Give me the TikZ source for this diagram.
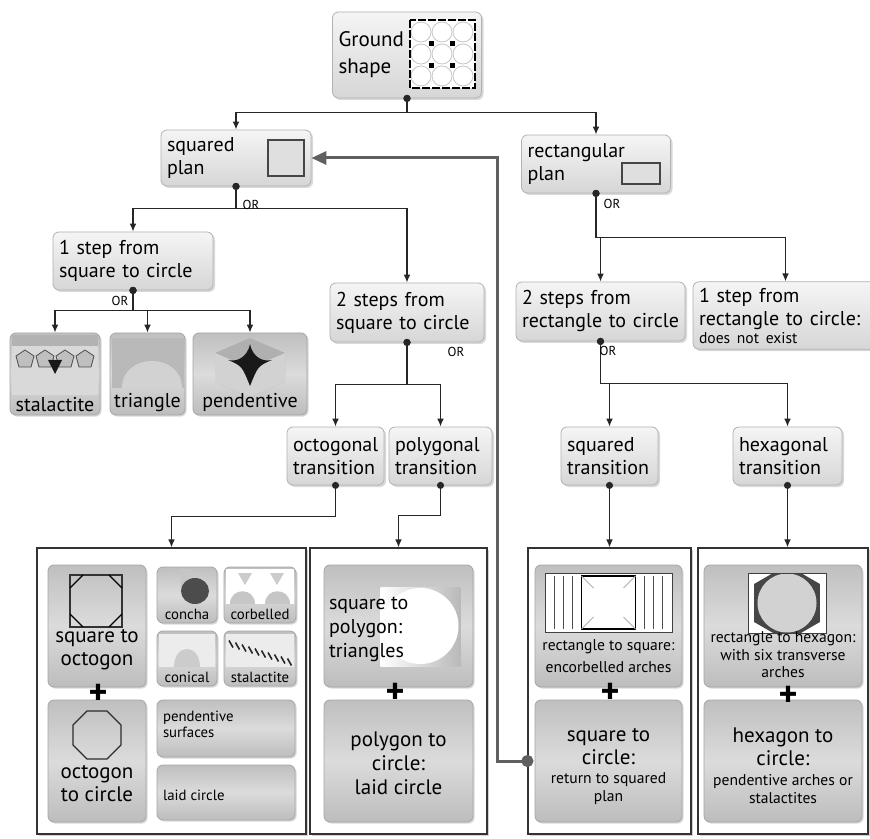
\documentclass[tikz,border=0pt]{standalone}
\usepackage{fontspec}
\setmainfont{PT Sans}
\usetikzlibrary{positioning, arrows.meta, shadows, calc}

\newcommand{\boxtxt}{\fontsize{10}{11.5}\selectfont}
\newcommand{\parttxt}{\fontsize{10.5}{11.5}\selectfont}
\newcommand{\notetxt}{\fontsize{7.8}{9}\selectfont}
\newcommand{\tagtxt}{\fontsize{7.4}{8}\selectfont}

\tikzset{
  choicebox/.style={rectangle, rounded corners=3pt, draw=gray!60, top color=gray!8, bottom color=gray!32,
    drop shadow={opacity=0.3, shadow xshift=1pt, shadow yshift=-1pt}, inner sep=3pt, align=left, font=\boxtxt},
  partbox/.style={rectangle, rounded corners=3pt, draw=gray!70, top color=gray!50, bottom color=gray!52, middle color=gray!28,
    drop shadow={opacity=0.3, shadow xshift=0.8pt, shadow yshift=-0.8pt}, inner sep=0pt},
  panelbox/.style={rectangle, draw=black!80, line width=0.6pt, fill=white,
    drop shadow={opacity=0.35, shadow xshift=1pt, shadow yshift=-1pt}, inner sep=0pt},
  inlabel/.style={inner sep=0pt, align=center},
  flowarrow/.style={{Circle[length=3.5pt]}-{Latex[length=4pt,width=3.4pt]}, shorten <=-1.75pt, line width=0.7pt, black!85},
  loopback/.style={{Circle[length=6pt]}-{Triangle[length=7.5pt,width=6.5pt]}, shorten <=-3pt, line width=1.5pt, gray!75!black},
  ortext/.style={font=\fontsize{6.5}{7}\selectfont, inner sep=0pt},
  plusmark/.style={font=\fontsize{18}{18}\selectfont\bfseries, inner sep=0pt},
}

\begin{document}
\begin{tikzpicture}[x=0.5pt, y=-0.5pt]
\fill[white] (0,0) rectangle (870,838);
\useasboundingbox (0,0) rectangle (870,838);

% decision boxes
\node[choicebox, text width=68.5pt, minimum height=43pt, font=\fontsize{10.5}{13.5}\selectfont] (ground) at (407,55) {Ground\\shape};
\node[choicebox, text width=69pt, minimum height=28pt] (sqplan) at (236,158) {squared\\plan};
\node[choicebox, text width=68.5pt, minimum height=29pt] (rectplan) at (596,164) {rectangular\\plan};
\node[choicebox, text width=74pt, minimum height=29pt] (step1sq) at (133,261) {1 step from\\square to circle};
\node[choicebox, text width=71pt, minimum height=29.5pt] (steps2sq) at (407,312.5) {2 steps from\\square to circle};
\node[choicebox, text width=78.5pt, minimum height=29.5pt] (steps2rect) at (600.5,311.5) {2 steps from\\rectangle to circle};
\node[choicebox, text width=86.5pt, minimum height=33.5pt] (step1rect) at (785.5,315.5) {1 step from\\rectangle to circle:\\[-2.5pt]{\notetxt does not exist}};
\node[choicebox, text width=42.5pt, minimum height=29pt] (octtrans) at (335.5,456) {octogonal\\transition};
\node[choicebox, text width=45.5pt, minimum height=29pt] (polytrans) at (440.5,456) {polygonal\\transition};
\node[choicebox, text width=42.5pt, minimum height=29pt] (sqtrans) at (609.5,456) {squared\\transition};
\node[choicebox, text width=48.5pt, minimum height=29pt] (hextrans) at (787.5,456) {hexagonal\\transition};

% one step pictures
\node[partbox, minimum width=45pt, minimum height=41pt] (stal) at (55,374) {};
\node[partbox, minimum width=37.5pt, minimum height=41pt] (tri) at (147.5,374) {};
\node[partbox, minimum width=57pt, minimum height=41pt] (pend) at (250,374) {};

% panels
\node[panelbox, minimum width=134.5pt, minimum height=143pt] (panelA) at (171.5,691) {};
\node[panelbox, minimum width=88.5pt, minimum height=143pt] (panelB) at (398.5,691) {};
\node[panelbox, minimum width=81.5pt, minimum height=143pt] (panelC) at (609.5,691) {};
\node[panelbox, minimum width=85pt, minimum height=143pt] (panelD) at (783,691) {};

\node[partbox, minimum width=49pt, minimum height=61pt] (sqoct) at (97,626) {};
\node[partbox, minimum width=49pt, minimum height=61pt] (octcirc) at (97,761) {};
\node[partbox, minimum width=30pt, minimum height=28pt] (concha) at (187,595) {};
\node[partbox, minimum width=36pt, minimum height=28pt] (corbel) at (260,595) {};
\node[partbox, minimum width=30pt, minimum height=27.5pt] (conical) at (187,658.5) {};
\node[partbox, minimum width=36pt, minimum height=27.5pt] (stalsm) at (260,658.5) {};
\node[partbox, minimum width=69pt, minimum height=28.5pt] (pendsurf) at (226,728.5) {};
\node[partbox, minimum width=69pt, minimum height=27.5pt] (laidcirc) at (226,792.5) {};
\node[partbox, minimum width=74.5pt, minimum height=61pt] (sqpoly) at (398.5,626) {};
\node[partbox, minimum width=74.5pt, minimum height=61pt] (polycirc) at (398.5,761) {};
\node[partbox, minimum width=73.5pt, minimum height=61pt] (rectsq) at (608.5,626) {};
\node[partbox, minimum width=73.5pt, minimum height=61pt] (sqcirc) at (608.5,761) {};
\node[partbox, minimum width=79pt, minimum height=61pt] (recthex) at (783,626) {};
\node[partbox, minimum width=79pt, minimum height=61pt] (hexcirc) at (783,761) {};

% pictures in the boxes
\begin{scope}[shift={(ground.center)}]
  \fill[white] (3,-35) rectangle (68,33);
  \foreach \cx in {14,35,56}
    \foreach \cy in {-23,-1,21}
      \draw[gray!45] (\cx,\cy) circle (10);
  \foreach \cx in {22,43}
    \foreach \cy in {-14,8}
      \fill (\cx,\cy) rectangle ++(5,5);
  \draw[line width=1.3pt, dash pattern=on 4pt off 1pt] (3,-35) rectangle (68,33);
\end{scope}
\begin{scope}[shift={(sqplan.center)}]
  \filldraw[fill=gray!25, draw=gray!55!black, line width=1pt] (32,-18) rectangle (68,18);
\end{scope}
\begin{scope}[shift={(rectplan.center)}]
  \filldraw[fill=gray!25, draw=gray!55!black, line width=0.8pt] (26,-1) rectangle (64,20);
\end{scope}
\begin{scope}[shift={(stal.center)}]
  \fill[gray!30] (-43,-39) rectangle (43,21);
  \fill[gray!60] (-43,-39) rectangle (43,-28);
  \foreach \px in {-30,-10,10,30}
    \filldraw[fill=gray!50, draw=black!70, line width=0.4pt] (\px,-24) -- ++(9,6) -- ++(-3,11) -- ++(-12,0) -- ++(-3,-11) -- cycle;
  \fill[gray!20!black] (-7,-14) -- (7,-14) -- (0,0) -- cycle;
\end{scope}
\begin{scope}[shift={(tri.center)}]
  \fill[gray!55] (-36,-36) rectangle (36,14);
  \fill[gray!35] (-26,14) .. controls (-26,-22) and (34,-22) .. (34,14) -- cycle;
\end{scope}
\begin{scope}[shift={(pend.center)}]
  \fill[gray!62] (0,-36) -- (35,-21) -- (35,8) -- (0,23) -- (-35,8) -- (-35,-21) -- cycle;
  \fill[gray!35] (-35,-21) -- (0,-6) -- (35,-21) -- (35,8) -- (0,23) -- (-35,8) -- cycle;
  \fill[gray!20!black] (0,-30) .. controls (3,-15) and (15,-12) .. (22,-14) .. controls (8,-8) .. (0,12)
    .. controls (-8,-8) .. (-22,-14) .. controls (-15,-12) and (-3,-15) .. (0,-30) -- cycle;
\end{scope}
\begin{scope}[shift={(sqoct.center)}]
  \draw[gray!40!black, line width=0.8pt] (-27,-51) rectangle (25,1);
  \draw[black, line width=0.6pt] (-27,-38) -- (-14,-51) (12,-51) -- (25,-38) (25,-12) -- (12,1) (-14,1) -- (-27,-12);
\end{scope}
\begin{scope}[shift={(octcirc.center)}, yshift=13pt]
  \draw[gray!35!black, line width=0.6pt] (22.5:26) \foreach \a in {67.5,112.5,...,337.5} { -- (\a:26) } -- cycle;
\end{scope}
\begin{scope}[shift={(concha.center)}]
  \fill[gray!45] (-6,-26) rectangle (4,-4);
  \fill[gray!60!black] (8,-4) ellipse (14 and 13);
\end{scope}
\begin{scope}[shift={(corbel.center)}]
  \fill[white] (-34,-26) rectangle (34,9);
  \fill[gray!40] (-22,-22) -- (-8,-22) -- (-15,-10) -- cycle;
  \fill[gray!40] (10,-22) -- (24,-22) -- (17,-10) -- cycle;
  \fill[gray!45] (-30,9) .. controls (-30,-8) and (-5,-8) .. (-5,9) -- cycle;
  \fill[gray!45] (5,9) .. controls (5,-8) and (30,-8) .. (30,9) -- cycle;
\end{scope}
\begin{scope}[shift={(conical.center)}]
  \fill[gray!15] (-28,-25) rectangle (28,8);
  \fill[gray!40] (-13,8) .. controls (-13,-16) and (13,-16) .. (13,8) -- cycle;
\end{scope}
\begin{scope}[shift={(stalsm.center)}]
  \fill[gray!15] (-34,-25) rectangle (34,8);
  \foreach \i in {0,...,9}
    \draw[gray!30!black, line width=0.8pt] (-31+\i*6.5,-18+\i*2) -- ++(4,7);
\end{scope}
\begin{scope}[shift={(sqpoly.center)}]
  \shade[left color=white, right color=gray!55] (-18,-39) rectangle (62,40);
  \fill[white] (22,0) circle (38);
\end{scope}
\begin{scope}[shift={(rectsq.center)}]
  \filldraw[fill=white, draw=gray!50!black, line width=0.5pt] (-63,-53) rectangle (64,6);
  \foreach \sx in {-54,-45,-36,36,45,54}
    \draw[gray!60!black, line width=0.4pt] (\sx,-50) -- (\sx,3);
  \draw[black, line width=0.8pt] (-27,-50) rectangle (27,3);
  \draw[gray!60, line width=0.4pt] (-27,-50) -- (-15,-38) (27,-50) -- (15,-38) (27,3) -- (15,-9) (-27,3) -- (-15,-9);
\end{scope}
\begin{scope}[shift={(recthex.center)}]
  \fill[white] (-35,-53) rectangle (43,7);
  \begin{scope}
    \clip (-35,-53) rectangle (43,7);
    \fill[gray!55!black] (4,-23) ++(30:38) \foreach \a in {90,150,...,330} { -- ($(4,-23)+(\a:38)$) } -- cycle;
    \fill[gray!35] (4,-23) circle (29.5);
  \end{scope}
  \draw[gray!50!black, line width=0.5pt] (-35,-53) rectangle (43,7);
\end{scope}

% texts in the boxes
\node[inlabel, font=\boxtxt, anchor=south, inner sep=1.5pt] (stal-txt) at (stal.south) {stalactite};
\node[inlabel, font=\boxtxt, anchor=south, inner sep=1.5pt] (tri-txt) at (tri.south) {triangle};
\node[inlabel, font=\boxtxt, anchor=south, inner sep=1.5pt] (pend-txt) at (pend.south) {pendentive};
\node[inlabel, font=\parttxt] (sqoct-txt) at ($(sqoct.center)+(0,24)$) {square to\\octogon};
\node[inlabel, font=\parttxt] (octcirc-txt) at ($(octcirc.center)+(0,23)$) {octogon\\to circle};
\node[inlabel, font=\tagtxt, anchor=south, inner sep=1.5pt] (concha-txt) at (concha.south) {concha};
\node[inlabel, font=\tagtxt, anchor=south, inner sep=1.5pt] (corbel-txt) at (corbel.south) {corbelled};
\node[inlabel, font=\tagtxt, anchor=south, inner sep=1.5pt] (conical-txt) at (conical.south) {conical};
\node[inlabel, font=\tagtxt, anchor=south, inner sep=1.5pt] (stalsm-txt) at (stalsm.south) {stalactite};
\node[inlabel, font=\tagtxt, align=left, anchor=north west] (pendsurf-txt) at ($(pendsurf.north west)+(6,11)$) {pendentive\\surfaces};
\node[inlabel, font=\tagtxt, anchor=west] (laidcirc-txt) at ($(laidcirc.west)+(6,3)$) {laid circle};
\node[inlabel, font=\fontsize{10}{12}\selectfont, align=left, anchor=west] (sqpoly-txt) at ($(sqpoly.west)+(5,3)$) {square to\\polygon:\\triangles};
\node[inlabel, font=\fontsize{10.5}{12}\selectfont] (polycirc-txt) at ($(polycirc.center)+(0,2)$) {polygon to\\circle:\\laid circle};
\node[inlabel, font=\fontsize{7.8}{11}\selectfont] (rectsq-txt) at ($(rectsq.center)+(0,30)$) {rectangle to square:\\encorbelled arches};
\node[inlabel, font=\parttxt] (sqcirc-txt) at ($(sqcirc.center)+(0,-14)$) {square to\\circle:};
\node[inlabel, font=\notetxt] (sqcirc-note) at ($(sqcirc.center)+(0,28)$) {return to squared\\plan};
\node[inlabel, font=\fontsize{7.8}{8.7}\selectfont] (recthex-txt) at ($(recthex.center)+(0,29)$) {rectangle to hexagon:\\with six transverse\\arches};
\node[inlabel, font=\parttxt] (hexcirc-txt) at ($(hexcirc.center)+(0,-14)$) {hexagon to\\circle:};
\node[inlabel, font=\notetxt] (hexcirc-note) at ($(hexcirc.center)+(0,28)$) {pendentive arches or\\stalactites};

\node[plusmark] (plusA) at (98,694) {+};
\node[plusmark] (plusB) at (395,693) {+};
\node[plusmark] (plusC) at (610,693) {+};
\node[plusmark] (plusD) at (788,696) {+};

% connectors
\draw[flowarrow] (ground.south) -- ++(0,14) -| (sqplan.north);
\draw[flowarrow] (ground.south) -- ++(0,14) -| (rectplan.north);
\foreach \kid in {step1sq,steps2sq}
  \draw[flowarrow] (sqplan.south) -- ++(0,22) -| (\kid.north);
\foreach \kid in {steps2rect,step1rect}
  \draw[flowarrow] (rectplan.south) -- ++(0,44) -| (\kid.north);
\foreach \kid in {stal,tri,pend}
  \draw[flowarrow] (step1sq.south) -- ++(0,20) -| (\kid.north);
\foreach \kid in {octtrans,polytrans}
  \draw[flowarrow] (steps2sq.south) -- ++(0,42) -| (\kid.north);
\foreach \kid in {sqtrans,hextrans}
  \draw[flowarrow] (steps2rect.south) -- ++(0,42) -| (\kid.north);
\draw[flowarrow] (octtrans.south) -- ++(0,31) -| (panelA.north);
\draw[flowarrow] (polytrans.south) -- ++(0,30) -| (panelB.north);
\draw[flowarrow] (sqtrans.south) -- (panelC.north);
\draw[flowarrow] (hextrans.south) -- (hextrans.south |- panelD.north);

\coordinate (loopstart) at (panelC.west |- sqcirc.center);
\draw[loopback] (loopstart) -- ++(-30,0) |- (sqplan.east);

\node[ortext] (or-sq) at (251,205) {OR};
\node[ortext] (or-rect) at (612,204) {OR};
\node[ortext] (or-step1) at (120,301) {OR};
\node[ortext] (or-steps2sq) at (456,352) {OR};
\node[ortext] (or-steps2rect) at (608,351) {OR};
\end{tikzpicture}
\end{document}
